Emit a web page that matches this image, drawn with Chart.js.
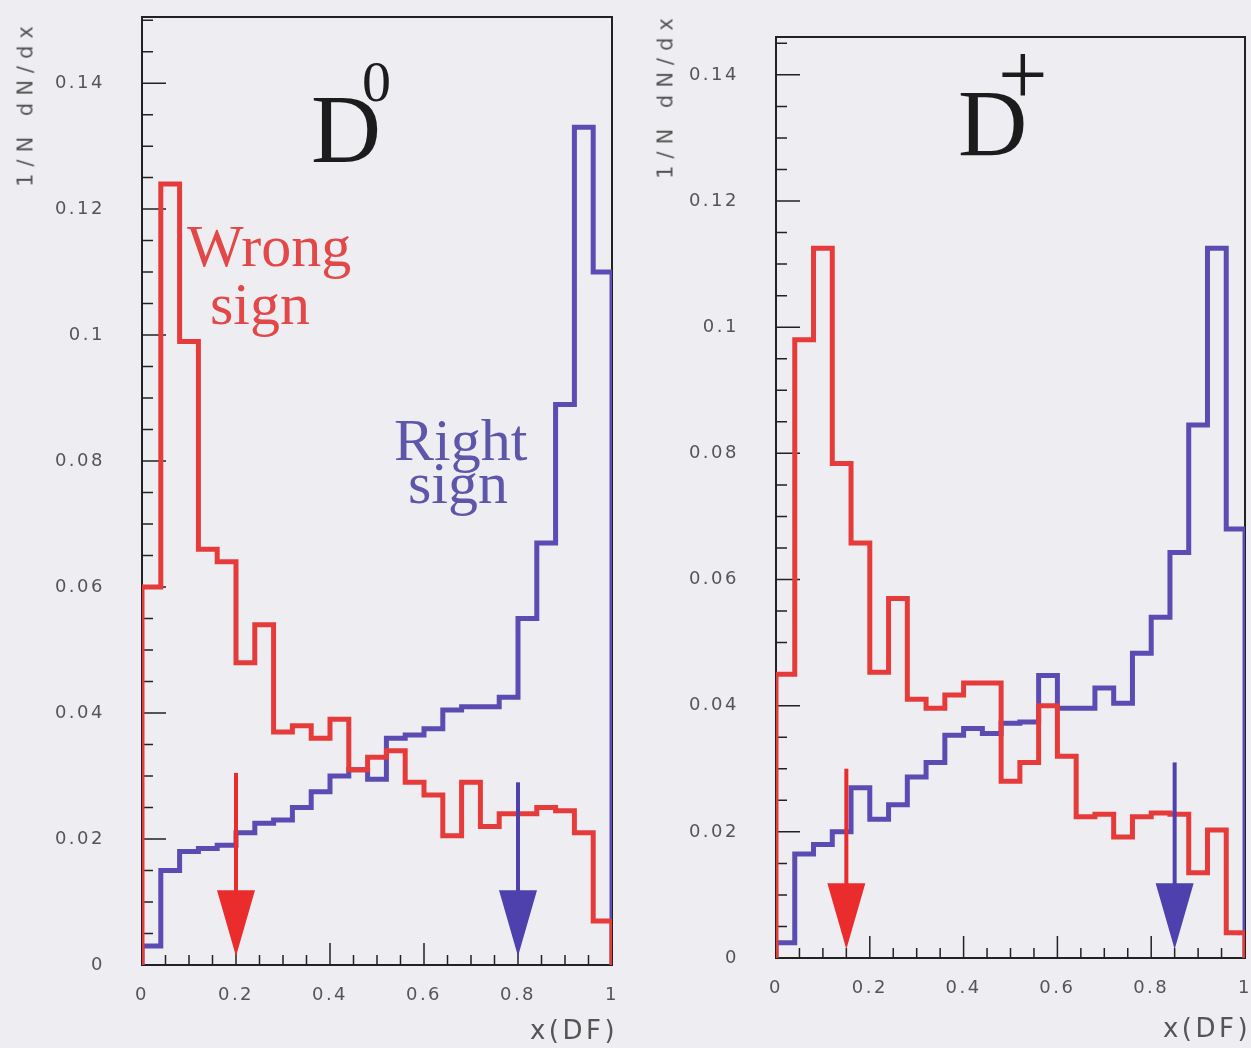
<!DOCTYPE html>
<html>
<head>
<meta charset="utf-8">
<title>Wrong sign / Right sign — x(DF)</title>
<script src="https://cdn.jsdelivr.net/npm/chart.js@4.4.0/dist/chart.umd.min.js"></script>
<style>
    html, body { margin: 0; padding: 0; width: 1251px; height: 1048px; overflow: hidden; background: #eeeef2; }
    .panel { position: absolute; top: 0; }
    #panelD0 { left: 0; }
    #panelDp { left: 630px; }
    .lbl { position: absolute; white-space: nowrap; line-height: 1; font-family: 'Liberation Serif', 'Times New Roman', serif; z-index: 2; }
    .axis { position: absolute; white-space: nowrap; line-height: 1; font-family: 'DejaVu Sans', sans-serif; color: #555; z-index: 2; transform: translate(-50%, -50%); }
    .ytitle { font-size: 21px; letter-spacing: 7px; transform: translate(-50%, -50%) rotate(-90deg); }
    .xtitle { font-size: 26px; letter-spacing: 3.5px; }
    .wrong { color: #e24848; font-size: 60px; }
    .right { color: #5e56aa; font-size: 60px; }
    .big { color: #1c1c1c; }
</style>
</head>
<body>
<canvas id="panelD0" class="panel" width="630" height="1048"></canvas>
<canvas id="panelDp" class="panel" width="640" height="1048"></canvas>

<!-- annotations -->
<div class="lbl big" style="left:311px; top:81px; font-size:97px;">D</div>
<div class="lbl big" style="left:362px; top:53px; font-size:58px;">0</div>
<div class="lbl wrong" style="left:187px; top:216px;">Wrong</div>
<div class="lbl wrong" style="left:210px; top:274px;">sign</div>
<div class="lbl right" style="left:394px; top:410px;">Right</div>
<div class="lbl right" style="left:408px; top:453px;">sign</div>

<div class="lbl big" style="left:958px; top:76px; font-size:96px;">D</div>
<div class="lbl big" style="left:998px; top:31px; font-size:88px;">+</div>

<div class="axis ytitle" style="left:26px; top:103px;">1/N dN/dx</div>
<div class="axis ytitle" style="left:666px; top:95px;">1/N dN/dx</div>
<div class="axis xtitle" style="left:574px; top:1030px;">x(DF)</div>
<div class="axis xtitle" style="left:1207px; top:1028px;">x(DF)</div>

<script>
(function () {
    'use strict';

    // ── Datos (histogramas normalizados, bins de 0.04) ─────────
    var BIN_WIDTH = 0.04;
    var X_TICKS = [0, 0.2, 0.4, 0.6, 0.8, 1];
    var Y_TICKS = [0, 0.02, 0.04, 0.06, 0.08, 0.1, 0.12, 0.14];

    // D0
    var D0_WRONG = [0.060, 0.124, 0.099, 0.066, 0.064, 0.048, 0.054, 0.037, 0.038, 0.036,
                    0.039, 0.031, 0.033, 0.034, 0.029, 0.027, 0.0205, 0.029, 0.022, 0.024,
                    0.024, 0.025, 0.0245, 0.021, 0.007];
    var D0_RIGHT = [0.003, 0.015, 0.018, 0.0185, 0.019, 0.021, 0.0225, 0.023, 0.025, 0.0275,
                    0.030, 0.031, 0.0295, 0.036, 0.0365, 0.0375, 0.0405, 0.041, 0.041, 0.0425,
                    0.055, 0.067, 0.089, 0.133, 0.110];
    var D0_ARROW_X = [0.2, 0.8];
    var D0_ARROW_TOP = [0.0305, 0.029];

    // D+
    var DP_WRONG = [0.045, 0.098, 0.1125, 0.0784, 0.0658, 0.0453, 0.057, 0.041, 0.0396, 0.0417,
                    0.0436, 0.0436, 0.028, 0.031, 0.040, 0.032, 0.0224, 0.0228, 0.0192, 0.0224,
                    0.023, 0.0228, 0.0135, 0.0203, 0.004];
    var DP_RIGHT = [0.0024, 0.0165, 0.018, 0.020, 0.027, 0.022, 0.0243, 0.0287, 0.031, 0.0353,
                    0.0364, 0.0356, 0.0372, 0.0374, 0.0448, 0.0396, 0.0396, 0.0428, 0.0404, 0.0483,
                    0.054, 0.0643, 0.0845, 0.1125, 0.068];
    var DP_ARROW_X = [0.15, 0.85];
    var DP_ARROW_TOP = [0.030, 0.031];

    var ARROW_TIP = 0.0014;

    // ── Estilos ───────────────────────────────────────────────
    var RED = '#e63b3b';
    var BLUE = '#5a4cb2';
    var ARROW_COLORS = ['#ea2c2c', '#4e40ad'];
    var TICK_FONT = { family: "'DejaVu Sans', sans-serif", size: 18 };

    // ── Helpers ───────────────────────────────────────────────
    function stepPoints(values) {
        var pts = [{ x: 0, y: 0 }];
        values.forEach(function (v, i) {
            pts.push({ x: i * BIN_WIDTH, y: v });
        });
        var end = values.length * BIN_WIDTH;
        pts.push({ x: end, y: values[values.length - 1] });
        pts.push({ x: end, y: 0 });
        return pts;
    }

    function fmt(v) {
        return String(+v.toFixed(2));
    }

    // marco tipo ROOT con ticks hacia adentro + flechas de corte
    var rootFrame = {
        id: 'rootFrame',
        beforeDraw: function (chart) {
            chart.ctx.letterSpacing = '2.5px';
        },
        beforeDatasetsDraw: function (chart) {
            var ctx = chart.ctx, a = chart.chartArea;
            var xs = chart.scales.x, ys = chart.scales.y;
            var i, p;
            ctx.save();
            ctx.strokeStyle = '#222';
            ctx.lineWidth = 2;
            ctx.strokeRect(a.left, a.top, a.right - a.left, a.bottom - a.top);

            ctx.lineWidth = 1.5;
            ctx.beginPath();
            for (i = 0; i * 0.005 <= ys.max + 1e-9; i++) {
                p = ys.getPixelForValue(i * 0.005);
                ctx.moveTo(a.left, p);
                ctx.lineTo(a.left + (i % 4 === 0 ? 24 : 11), p);
            }
            for (i = 0; i <= 20; i++) {
                p = xs.getPixelForValue(i * 0.05);
                ctx.moveTo(p, a.bottom);
                ctx.lineTo(p, a.bottom - (i % 4 === 0 ? 22 : 10));
            }
            ctx.stroke();
            ctx.restore();
        },
        afterDatasetsDraw: function (chart) {
            var opts = chart.options.plugins.rootFrame;
            var ctx = chart.ctx;
            var xs = chart.scales.x, ys = chart.scales.y;
            ctx.save();
            opts.arrowX.forEach(function (xv, i) {
                var px = xs.getPixelForValue(xv);
                var top = ys.getPixelForValue(opts.arrowTop[i]);
                var tip = ys.getPixelForValue(ARROW_TIP);
                var headH = 66, headW = 38;
                ctx.strokeStyle = ARROW_COLORS[i];
                ctx.fillStyle = ARROW_COLORS[i];
                ctx.lineWidth = 4;
                ctx.beginPath();
                ctx.moveTo(px, top);
                ctx.lineTo(px, tip - headH + 2);
                ctx.stroke();
                ctx.beginPath();
                ctx.moveTo(px - headW / 2, tip - headH);
                ctx.lineTo(px + headW / 2, tip - headH);
                ctx.lineTo(px, tip);
                ctx.closePath();
                ctx.fill();
            });
            ctx.restore();
        }
    };

    function createPanel(id, wrong, right, yMax, box, arrowX, arrowTop) {
        var ctx = document.getElementById(id);
        return new Chart(ctx, {
            type: 'line',
            data: {
                datasets: [{
                    label: 'Wrong sign',
                    data: stepPoints(wrong),
                    borderColor: RED,
                    borderWidth: 5,
                    stepped: 'before',
                    pointRadius: 0,
                    fill: false
                }, {
                    label: 'Right sign',
                    data: stepPoints(right),
                    borderColor: BLUE,
                    borderWidth: 5,
                    stepped: 'before',
                    pointRadius: 0,
                    fill: false
                }]
            },
            options: {
                responsive: false,
                animation: false,
                devicePixelRatio: 1,
                layout: { padding: { left: 0, right: box.padRight, top: box.padTop, bottom: 0 } },
                plugins: {
                    legend: { display: false },
                    tooltip: { enabled: false },
                    rootFrame: { arrowX: arrowX, arrowTop: arrowTop }
                },
                scales: {
                    x: {
                        type: 'linear',
                        min: 0,
                        max: 1,
                        grid: { display: false },
                        border: { display: false },
                        afterBuildTicks: function (s) {
                            s.ticks = X_TICKS.map(function (v) { return { value: v }; });
                        },
                        afterFit: function (s) {
                            s.height = box.xHeight;
                            s.paddingLeft = 0;
                            s.paddingRight = 0;
                        },
                        ticks: {
                            color: '#555',
                            font: TICK_FONT,
                            padding: 12,
                            autoSkip: false,
                            maxRotation: 0,
                            callback: fmt
                        }
                    },
                    y: {
                        type: 'linear',
                        min: 0,
                        max: yMax,
                        grid: { display: false },
                        border: { display: false },
                        afterBuildTicks: function (s) {
                            s.ticks = Y_TICKS.map(function (v) { return { value: v }; });
                        },
                        afterFit: function (s) {
                            s.width = box.yWidth;
                            s.paddingTop = 0;
                            s.paddingBottom = 0;
                        },
                        ticks: {
                            color: '#555',
                            font: TICK_FONT,
                            padding: 29,
                            callback: fmt
                        }
                    }
                }
            },
            plugins: [rootFrame]
        });
    }

    function init() {
        if (typeof Chart === 'undefined') {
            console.warn('Chart.js no está cargado.');
            return;
        }
        createPanel('panelD0', D0_WRONG, D0_RIGHT, 0.1505,
            { yWidth: 142, xHeight: 83, padTop: 17, padRight: 18 },
            D0_ARROW_X, D0_ARROW_TOP);
        createPanel('panelDp', DP_WRONG, DP_RIGHT, 0.146,
            { yWidth: 146, xHeight: 90, padTop: 37, padRight: 25 },
            DP_ARROW_X, DP_ARROW_TOP);
    }

    document.addEventListener('DOMContentLoaded', init);
})();
</script>
</body>
</html>
